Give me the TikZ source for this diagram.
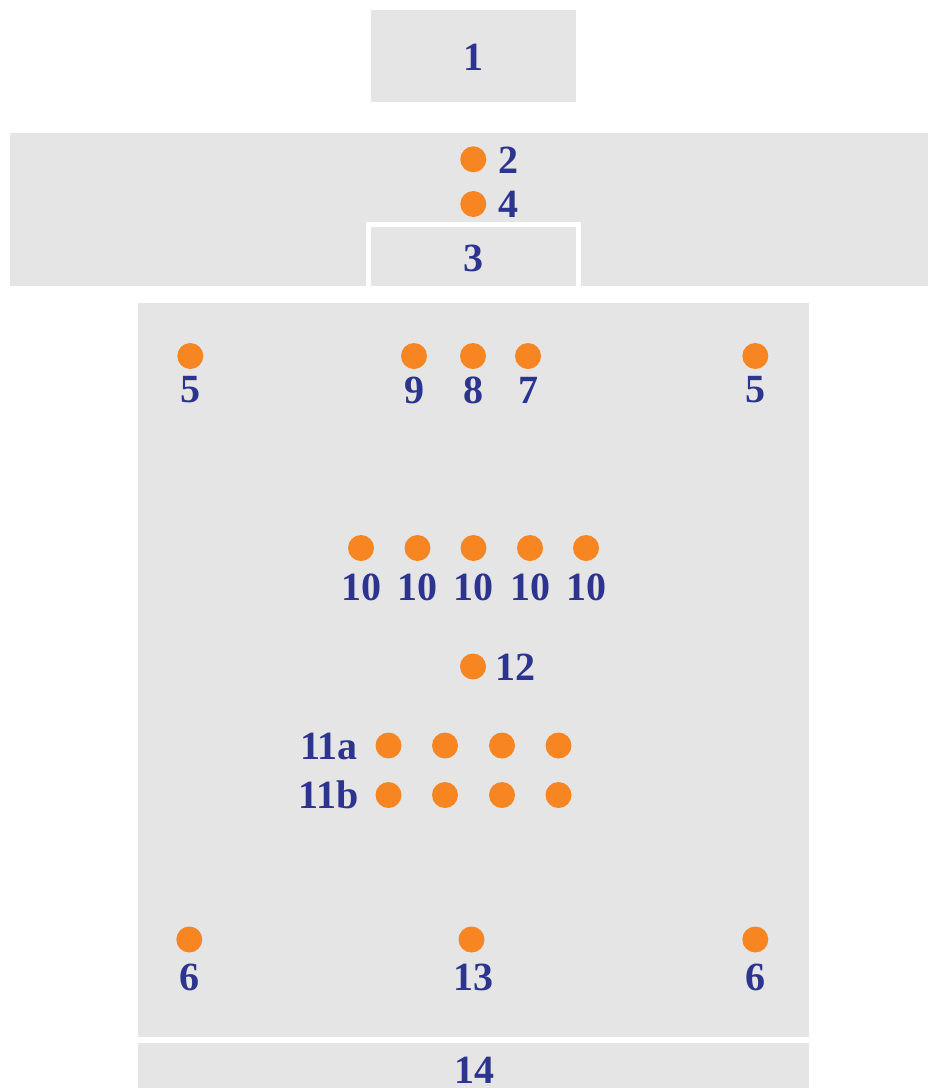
\documentclass[tikz,border=0pt]{standalone}
\usepackage{fontspec}
\setmainfont{Liberation Serif}
\definecolor{panel}{RGB}{229,229,229}
\definecolor{dotorange}{RGB}{247,133,34}
\definecolor{labelblue}{RGB}{44,52,143}
\tikzset{
  panelbox/.style={fill=panel,draw=none},
  dot/.style={circle,fill=dotorange,draw=none,minimum size=26pt,inner sep=0pt},
  lbl/.style={text=labelblue,font=\fontsize{40}{42}\selectfont\bfseries,inner sep=0pt}
}
\begin{document}
\begin{tikzpicture}[x=1pt,y=-1pt]
\useasboundingbox[fill=white] (0,0) rectangle (928,1088);
% panels
\fill[panel] (370.7,10.3) rectangle (576.3,102);
\fill[panel] (10,133) rectangle (928,286);
\draw[white,line width=5pt,fill=panel] (368.2,286) -- (368.2,224.2) -- (578.5,224.2) -- (578.5,286);
\fill[panel] (137.7,303.3) rectangle (809,1037.3);
\fill[panel] (137.7,1042.7) rectangle (809,1088);
% labels of panels
\node[lbl] (l1) at (473.5,57) {1};
\node[lbl] (l3) at (473.5,258) {3};
\node[lbl] (l14) at (474,1070) {14};
% top band dots
\node[dot] (d2) at (473.3,159.3) {};
\node[lbl] (l2) at (508,160.5) {2};
\node[dot] (d4) at (473.3,204) {};
\node[lbl] (l4) at (508,204) {4};
% row of 5/9/8/7/5
\node[dot] (d5a) at (190.3,356) {};
\node[lbl] (l5a) at (190.3,390) {5};
\node[dot] (d9) at (414,356) {};
\node[lbl] (l9) at (414,390) {9};
\node[dot] (d8) at (473,356) {};
\node[lbl] (l8) at (473,390) {8};
\node[dot] (d7) at (528,356) {};
\node[lbl] (l7) at (528,390) {7};
\node[dot] (d5b) at (755.3,356) {};
\node[lbl] (l5b) at (755.3,390) {5};
% row of 10
\foreach \i/\x in {1/361,2/417.5,3/473.5,4/530,5/586}{
  \node[dot] (d10\i) at (\x,548) {};
  \node[lbl] (l10\i) at (\x,587.5) {10};
}
% 12
\node[dot] (d12) at (473,666.5) {};
\node[lbl] (l12) at (515,667) {12};
% 11a / 11b
\node[lbl,anchor=east] (l11a) at (358,746) {11a};
\node[lbl,anchor=east] (l11b) at (358.5,795) {11b};
\foreach \i/\x in {1/388.5,2/445,3/502,4/558.5}{
  \node[dot] (da\i) at (\x,745.5) {};
  \node[dot] (db\i) at (\x,795) {};
}
% bottom row
\node[dot] (d6a) at (189.3,939.5) {};
\node[lbl] (l6a) at (189.3,977) {6};
\node[dot] (d13) at (471.5,939.5) {};
\node[lbl] (l13) at (473,977) {13};
\node[dot] (d6b) at (755.3,939.5) {};
\node[lbl] (l6b) at (755.3,977) {6};
\end{tikzpicture}
\end{document}
